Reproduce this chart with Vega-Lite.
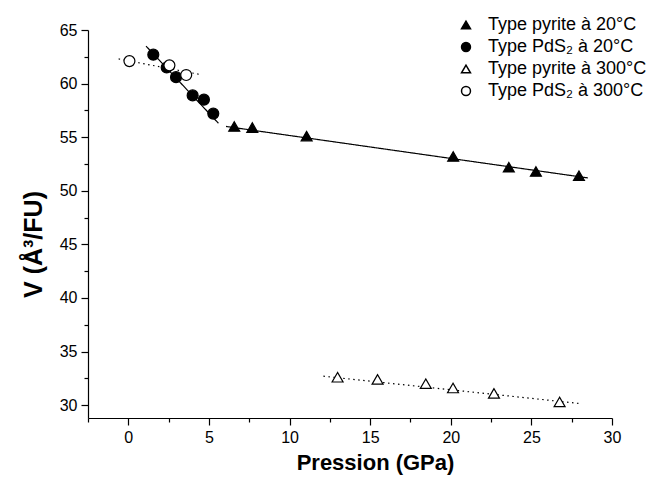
{
  "$schema": "https://vega.github.io/schema/vega-lite/v6.json",
  "width": 524,
  "height": 388,
  "autosize": {"type": "none"},
  "padding": {"left": 88, "top": 30, "right": 41, "bottom": 60},
  "background": "white",
  "config": {
    "view": {"stroke": null},
    "font": "Liberation Sans",
    "axis": {
      "grid": false,
      "domainColor": "black",
      "domainWidth": 1.2,
      "tickColor": "black",
      "tickWidth": 1.2,
      "labelColor": "black",
      "labelFont": "Liberation Sans",
      "labelFontSize": 16,
      "titleFont": "Liberation Sans",
      "titleFontSize": 22,
      "titleFontWeight": "bold",
      "titleColor": "black"
    },
    "legend": {
      "labelFont": "Liberation Sans",
      "labelFontSize": 18,
      "labelColor": "black",
      "labelLimit": 300
    }
  },
  "datasets": {
    "pts": [
      {"series": "Type pyrite à 20°C", "P": 6.57, "V": 56.0},
      {"series": "Type pyrite à 20°C", "P": 7.69, "V": 55.9},
      {"series": "Type pyrite à 20°C", "P": 11.06, "V": 55.1},
      {"series": "Type pyrite à 20°C", "P": 20.15, "V": 53.2},
      {"series": "Type pyrite à 20°C", "P": 23.6, "V": 52.2},
      {"series": "Type pyrite à 20°C", "P": 25.28, "V": 51.8},
      {"series": "Type pyrite à 20°C", "P": 27.95, "V": 51.4},
      {"series": "Type PdS₂ à 20°C", "P": 1.55, "V": 62.7},
      {"series": "Type PdS₂ à 20°C", "P": 2.38, "V": 61.5},
      {"series": "Type PdS₂ à 20°C", "P": 2.96, "V": 60.6},
      {"series": "Type PdS₂ à 20°C", "P": 3.99, "V": 58.9},
      {"series": "Type PdS₂ à 20°C", "P": 4.69, "V": 58.5},
      {"series": "Type PdS₂ à 20°C", "P": 5.27, "V": 57.2},
      {"series": "Type pyrite à 300°C", "P": 12.98, "V": 32.6},
      {"series": "Type pyrite à 300°C", "P": 15.46, "V": 32.4},
      {"series": "Type pyrite à 300°C", "P": 18.45, "V": 32.0},
      {"series": "Type pyrite à 300°C", "P": 20.14, "V": 31.6},
      {"series": "Type pyrite à 300°C", "P": 22.68, "V": 31.1},
      {"series": "Type pyrite à 300°C", "P": 26.75, "V": 30.3},
      {"series": "Type PdS₂ à 300°C", "P": 0.07, "V": 62.1},
      {"series": "Type PdS₂ à 300°C", "P": 2.55, "V": 61.7},
      {"series": "Type PdS₂ à 300°C", "P": 3.59, "V": 60.8}
    ],
    "fits": [
      {"seg": "pyr20", "style": "solid", "P": 6.06, "V": 56.0},
      {"seg": "pyr20", "style": "solid", "P": 28.5, "V": 51.2},
      {"seg": "pds20", "style": "solid", "P": 1.1, "V": 63.5},
      {"seg": "pds20", "style": "solid", "P": 5.59, "V": 56.3},
      {"seg": "pds300", "style": "dot", "P": -0.6, "V": 62.3},
      {"seg": "pds300", "style": "dot", "P": 4.45, "V": 60.85},
      {"seg": "pyr300", "style": "dot", "P": 12.1, "V": 32.7},
      {"seg": "pyr300", "style": "dot", "P": 28.0, "V": 30.15}
    ]
  },
  "encoding": {
    "x": {
      "field": "P",
      "type": "quantitative",
      "scale": {"domain": [-2.5, 30], "nice": false, "zero": false},
      "axis": {
        "title": "Pression (GPa)",
        "values": [-2.5, 0, 2.5, 5, 7.5, 10, 12.5, 15, 17.5, 20, 22.5, 25, 27.5, 30],
        "labelExpr": "datum.value % 5 === 0 ? datum.label : ''",
        "tickSize": {"condition": {"test": "datum.value % 5 === 0", "value": 7}, "value": 4},
        "labelPadding": 4,
        "labelFlush": false,
        "titleX": 287,
        "titleY": 34,
        "titleBaseline": "top"
      }
    },
    "y": {
      "field": "V",
      "type": "quantitative",
      "scale": {"domain": [28.8, 65], "nice": false, "zero": false},
      "axis": {
        "title": "V (Å³/FU)",
        "values": [30, 32.5, 35, 37.5, 40, 42.5, 45, 47.5, 50, 52.5, 55, 57.5, 60, 62.5, 65],
        "labelExpr": "datum.value % 5 === 0 ? datum.label : ''",
        "tickSize": {"condition": {"test": "datum.value % 5 === 0", "value": 7}, "value": 4},
        "labelPadding": 4,
        "labelFlush": false,
        "titleFontSize": 25,
        "titleX": -55,
        "titleY": 214,
        "titleAngle": -90,
        "titleBaseline": "middle",
        "titleAlign": "center"
      }
    }
  },
  "layer": [
    {
      "data": {"name": "fits"},
      "mark": {"type": "line", "color": "black", "strokeWidth": 1.2},
      "encoding": {
        "detail": {"field": "seg"},
        "strokeDash": {
          "field": "style",
          "type": "nominal",
          "scale": {"domain": ["solid", "dot"], "range": [[1, 0], [1.5, 3.5]]},
          "legend": null
        }
      }
    },
    {
      "data": {"name": "pts"},
      "mark": {"type": "point", "stroke": "black", "strokeWidth": 1.2, "opacity": 1, "size": 120},
      "encoding": {
        "shape": {
          "field": "series",
          "type": "nominal",
          "sort": null,
          "scale": {
            "domain": ["Type pyrite à 20°C", "Type PdS₂ à 20°C", "Type pyrite à 300°C", "Type PdS₂ à 300°C"],
            "range": ["triangle-up", "circle", "triangle-up", "circle"]
          },
          "legend": {
            "title": null,
            "orient": "none",
            "legendX": 369,
            "legendY": -14,
            "symbolSize": 80,
            "rowPadding": 4,
            "labelOffset": 13,
            "encode": {"symbols": {"update": {"stroke": {"value": "black"}, "strokeWidth": {"value": 1.2}}}}
          }
        },
        "fill": {
          "field": "series",
          "type": "nominal",
          "sort": null,
          "scale": {
            "domain": ["Type pyrite à 20°C", "Type PdS₂ à 20°C", "Type pyrite à 300°C", "Type PdS₂ à 300°C"],
            "range": ["black", "black", "white", "white"]
          },
          "legend": {
            "title": null,
            "orient": "none",
            "legendX": 369,
            "legendY": -14,
            "symbolSize": 80,
            "rowPadding": 4,
            "labelOffset": 13,
            "encode": {"symbols": {"update": {"stroke": {"value": "black"}, "strokeWidth": {"value": 1.2}}}}
          }
        }
      }
    }
  ]
}
